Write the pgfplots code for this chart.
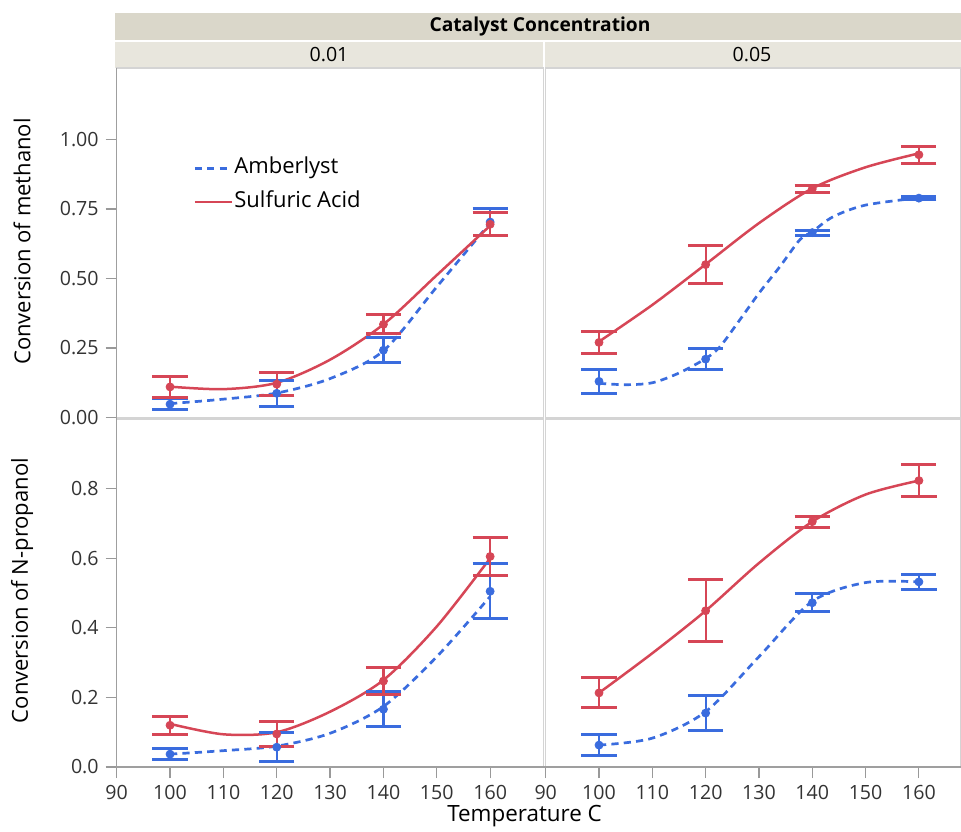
\documentclass[border=0pt]{standalone}
\usepackage{fontspec}
\setmainfont{Open Sans}
\usepackage{pgfplots}
\pgfplotsset{compat=1.18}
\definecolor{jred}{RGB}{214,70,86}
\definecolor{jblue}{RGB}{58,108,222}
\definecolor{hdrA}{RGB}{218,215,202}
\definecolor{hdrB}{RGB}{232,230,221}
\definecolor{panelframe}{RGB}{212,212,212}

\pgfplotsset{
  panel/.style={
    scale only axis, anchor=north west, xmin=90, ymin=0,
    axis line style={draw=panelframe, line width=0.6pt},
    tick pos=left, tick align=outside, major tick length=5.5pt,
    tick style={draw=gray!80, line width=0.6pt},
    tick label style={font=\fontsize{9.8}{11}\selectfont, text=black!80},
    /pgf/number format/assume math mode=true,
    clip=false,
  },
  curveA/.style={jblue, line width=1.35pt, dash pattern=on 3.6pt off 2.6pt, smooth, mark=none},
  curveS/.style={jred, line width=1.25pt, smooth, mark=none},
  means/.style={#1, only marks, mark=*, mark size=2pt,
    error bars/y dir=both, error bars/y explicit,
    error bars/error bar style={line width=1.1pt, solid},
    error bars/error mark=|,
    error bars/error mark options={mark size=8.8pt, line width=1.5pt, solid}},
}

\begin{document}
\begin{tikzpicture}
\path[use as bounding box] (0pt,0pt) rectangle (480.5pt,-415.5pt);

% header bands
\fill[hdrA] (57.5pt,-6.5pt) rectangle (480.5pt,-20pt);
\fill[hdrB] (57.5pt,-20.75pt) rectangle (271.4pt,-33.75pt);
\fill[hdrB] (272.4pt,-20.75pt) rectangle (480.5pt,-33.75pt);
\node[font=\bfseries\fontsize{9.6}{11}\selectfont] at (270pt,-13.3pt) {Catalyst Concentration};
\node[font=\fontsize{9.8}{11}\selectfont] at (164.5pt,-27.2pt) {0.01};
\node[font=\fontsize{9.8}{11}\selectfont] at (376pt,-27.2pt) {0.05};

% methanol, 0.01
\begin{axis}[panel, name=tl, at={(58.35pt,-34pt)}, width=213.4pt, height=174.75pt,
  xmax=170, ymax=1.257, xtick=\empty,
  ytick={0,0.25,0.5,0.75,1}, yticklabel style={/pgf/number format/.cd, fixed, fixed zerofill, precision=2},
  legend style={at={(0.179,0.665)}, anchor=west, draw=none, fill=none, inner sep=0pt,
    font=\fontsize{11}{12}\selectfont, row sep=6pt, cells={anchor=west},
    nodes={inner sep=0.6pt, text height=7.5pt, text depth=2pt}},
  legend image code/.code={\draw[#1] (0pt,0pt) -- (18.5pt,0pt);},
]
\addlegendimage{jblue, line width=1.35pt, dash pattern=on 3.6pt off 2.6pt}
\addlegendentry{Amberlyst}
\addlegendimage{jred, line width=1.25pt}
\addlegendentry{Sulfuric Acid}
\addplot[curveA, forget plot] coordinates {(100,0.050) (110,0.066) (120,0.088) (130,0.140) (140,0.240) (150,0.470) (160,0.700)};
\addplot[curveS, forget plot] coordinates {(100,0.111) (110,0.102) (120,0.125) (130,0.208) (140,0.335) (150,0.512) (160,0.690)};
\addplot[means=jblue, forget plot] coordinates {(100,0.048) +- (0,0.019) (120,0.087) +- (0,0.046) (140,0.242) +- (0,0.045) (160,0.703) +- (0,0.050)};
\addplot[means=jred, forget plot] coordinates {(100,0.110) +- (0,0.038) (120,0.120) +- (0,0.041) (140,0.335) +- (0,0.034) (160,0.695) +- (0,0.041)};
\end{axis}

% methanol, 0.05
\begin{axis}[panel, name=tr, at={(272.85pt,-34pt)}, width=207.65pt, height=174.75pt,
  xmax=167.9, ymax=1.257, xtick=\empty, ytick=\empty]
\addplot[curveA] coordinates {(100,0.123) (105,0.118) (110,0.125) (115,0.160) (120,0.212) (122.7,0.255) (126.4,0.351) (130,0.447) (133.9,0.542) (137.7,0.640) (140,0.668) (143.9,0.722) (150,0.764) (160,0.790)};
\addplot[curveS] coordinates {(100,0.273) (110,0.405) (120,0.551) (130,0.699) (140,0.824) (150,0.900) (160,0.950)};
\addplot[means=jblue] coordinates {(100,0.130) +- (0,0.044) (120,0.210) +- (0,0.038) (140,0.665) +- (0,0.009) (160,0.789) +- (0,0.006)};
\addplot[means=jred] coordinates {(100,0.270) +- (0,0.040) (120,0.550) +- (0,0.068) (140,0.822) +- (0,0.011) (160,0.945) +- (0,0.031)};
\end{axis}

% N-propanol, 0.01
\begin{axis}[panel, name=bl, at={(58.35pt,-209.5pt)}, width=213.4pt, height=174pt,
  xmax=170, ymax=1.0, xtick={90,100,...,160},
  ytick={0,0.2,0.4,0.6,0.8}, yticklabel style={/pgf/number format/.cd, fixed, fixed zerofill, precision=1}]
\addplot[curveA] coordinates {(100,0.037) (110,0.047) (120,0.060) (130,0.097) (140,0.174) (150,0.317) (160,0.490)};
\addplot[curveS] coordinates {(100,0.124) (110,0.094) (120,0.100) (130,0.159) (140,0.250) (150,0.404) (160,0.600)};
\addplot[means=jblue] coordinates {(100,0.037) +- (0,0.016) (120,0.057) +- (0,0.042) (140,0.166) +- (0,0.050) (160,0.505) +- (0,0.079)};
\addplot[means=jred] coordinates {(100,0.120) +- (0,0.026) (120,0.095) +- (0,0.036) (140,0.247) +- (0,0.039) (160,0.605) +- (0,0.055)};
\end{axis}

% N-propanol, 0.05
\begin{axis}[panel, name=br, at={(272.85pt,-209.5pt)}, width=207.65pt, height=174pt,
  xmax=167.9, ymax=1.0, xtick={90,100,...,160}, ytick=\empty]
\addplot[curveA] coordinates {(100,0.063) (110,0.083) (120,0.159) (130,0.317) (140,0.476) (150,0.530) (160,0.532)};
\addplot[curveS] coordinates {(100,0.213) (110,0.327) (120,0.449) (130,0.586) (140,0.705) (150,0.783) (160,0.823)};
\addplot[means=jblue] coordinates {(100,0.063) +- (0,0.030) (120,0.155) +- (0,0.050) (140,0.472) +- (0,0.026) (160,0.532) +- (0,0.022)};
\addplot[means=jred] coordinates {(100,0.213) +- (0,0.043) (120,0.449) +- (0,0.089) (140,0.705) +- (0,0.016) (160,0.823) +- (0,0.046)};
\end{axis}

% outer axis lines
\draw[gray!75, line width=0.7pt] (tl.north west) -- (bl.south west) -- (br.south east);

% labels
\node[rotate=90, font=\fontsize{11}{12}\selectfont] at (11pt,-120.75pt) {Conversion of methanol};
\node[rotate=90, font=\fontsize{11}{12}\selectfont] at (11pt,-295.25pt) {Conversion of N-propanol};
\node[font=\fontsize{11.2}{12}\selectfont] at (262.3pt,-408pt) {Temperature C};
\end{tikzpicture}
\end{document}
